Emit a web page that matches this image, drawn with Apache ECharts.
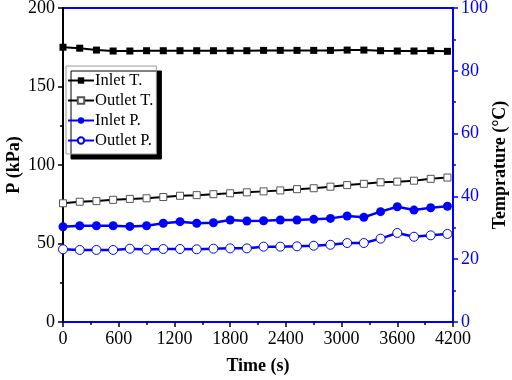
<!DOCTYPE html>
<html>
<head>
<meta charset="utf-8">
<script src="https://cdn.jsdelivr.net/npm/echarts@6/dist/echarts.min.js"></script>
<style>
  html, body { margin: 0; padding: 0; background: #fff; }
  #main { width: 512px; height: 380px; }
</style>
</head>
<body>
<div id="main"></div>
<script>
// time points (s)
var times = [0, 180, 360, 540, 720, 900, 1080, 1260, 1440, 1620, 1800, 1980,
             2160, 2340, 2520, 2700, 2880, 3060, 3240, 3420, 3600, 3780, 3960, 4140];
// temperatures (°C), right axis
var inletT = [87.5, 87.2, 86.6, 86.3, 86.3, 86.4, 86.4, 86.4, 86.4, 86.4, 86.4, 86.4,
              86.5, 86.5, 86.5, 86.5, 86.5, 86.6, 86.6, 86.4, 86.3, 86.3, 86.4, 86.2];
var outletT = [37.8, 38.3, 38.5, 38.9, 39.2, 39.4, 39.8, 40.2, 40.4, 40.7, 41.0, 41.3,
               41.6, 41.9, 42.3, 42.6, 43.1, 43.6, 44.0, 44.5, 44.7, 45.0, 45.6, 46.0];
// pressures (kPa), left axis
var inletP = [60.7, 61.3, 61.3, 61.3, 60.9, 61.3, 62.9, 63.9, 62.9, 63.2, 65.0, 64.3,
              64.5, 65.0, 65.0, 65.4, 66.0, 67.5, 66.7, 70.3, 73.4, 71.3, 72.8, 73.7];
var outletP = [46.3, 45.9, 45.9, 45.9, 46.7, 46.1, 46.5, 46.5, 46.3, 46.7, 46.9, 46.9,
               48.0, 48.0, 48.2, 48.6, 49.2, 50.3, 50.3, 53.1, 56.7, 54.3, 55.2, 56.1];

var seriesNames = ['Inlet T.', 'Outlet T.', 'Inlet P.', 'Outlet P.'];

var font = 'Liberation Serif';
var blue = '#0000ff';

function pairs(vals) {
    return times.map(function(t, i) { return [t, vals[i]]; });
}

var chart = echarts.init(document.getElementById('main'));

var option = {
    animation: false,
    textStyle: { fontFamily: font },
    grid: {
        left: 63, right: 59, top: 8, bottom: 58,
        outerBoundsMode: 'none',
        show: true, borderColor: blue, borderWidth: 2
    },
    legend: {
        data: seriesNames,
        orient: 'vertical',
        left: 66, top: 66,
        itemWidth: 26, itemHeight: 8, itemGap: 3,
        padding: [6, 3, 5, 1],
        backgroundColor: '#fff',
        borderColor: '#999', borderWidth: 1,
        shadowColor: '#000', shadowBlur: 0, shadowOffsetX: 5, shadowOffsetY: 5,
        textStyle: { fontFamily: font, fontSize: 16.5, color: '#000', padding: [0, 0, 0, -4] }
    },
    xAxis: {
        type: 'value', min: 0, max: 4200, interval: 600,
        name: 'Time (s)', nameLocation: 'middle', nameGap: 35, nameMoveOverlap: false,
        nameTextStyle: { fontFamily: font, fontSize: 18, fontWeight: 'bold', color: '#000' },
        axisLine: { lineStyle: { color: blue, width: 2 } },
        axisTick: { inside: false, length: 5, lineStyle: { color: '#000', width: 1.5 } },
        minorTick: { show: true, splitNumber: 2, length: 3, lineStyle: { color: '#000', width: 1.5 } },
        axisLabel: {
            fontFamily: font, fontSize: 18, color: '#000', margin: 8,
            formatter: function(v) { return String(v); }
        },
        splitLine: { show: false }
    },
    yAxis: [{
        type: 'value', min: 0, max: 200, interval: 50, position: 'left',
        name: 'P (kPa)', nameLocation: 'middle', nameGap: 40, nameMoveOverlap: false,
        nameTextStyle: { fontFamily: font, fontSize: 18, fontWeight: 'bold', color: '#000' },
        axisLine: { show: true, lineStyle: { color: '#000', width: 2 } },
        axisTick: { length: 5, lineStyle: { color: '#000', width: 1.5 } },
        minorTick: { show: true, splitNumber: 2, length: 3, lineStyle: { color: '#000', width: 1.5 } },
        axisLabel: { fontFamily: font, fontSize: 18, color: '#000', margin: 8 },
        splitLine: { show: false }
    }, {
        type: 'value', min: 0, max: 100, interval: 20, position: 'right',
        name: 'Temprature (°C)', nameLocation: 'middle', nameGap: 38, nameMoveOverlap: false,
        nameTextStyle: { fontFamily: font, fontSize: 18, fontWeight: 'bold', color: '#000' },
        axisLine: { show: true, lineStyle: { color: blue, width: 2 } },
        axisTick: { length: 5, lineStyle: { color: blue, width: 1.5 } },
        minorTick: { show: true, splitNumber: 2, length: 3, lineStyle: { color: blue, width: 1.5 } },
        axisLabel: { fontFamily: font, fontSize: 18, color: blue, margin: 8 },
        splitLine: { show: false }
    }],
    series: [{
        name: 'Inlet T.', type: 'line', yAxisIndex: 1, data: pairs(inletT),
        symbol: 'rect', symbolSize: 7,
        lineStyle: { color: '#000', width: 2 },
        itemStyle: { color: '#000', borderColor: '#000', borderWidth: 0 }
    }, {
        name: 'Outlet T.', type: 'line', yAxisIndex: 1, data: pairs(outletT),
        symbol: 'rect', symbolSize: 7,
        lineStyle: { color: '#000', width: 2 },
        itemStyle: { color: '#fff', borderColor: '#555', borderWidth: 1 }
    }, {
        name: 'Inlet P.', type: 'line', yAxisIndex: 0, data: pairs(inletP),
        symbol: 'circle', symbolSize: 9,
        lineStyle: { color: blue, width: 2.5 },
        itemStyle: { color: blue, borderColor: blue, borderWidth: 0 }
    }, {
        name: 'Outlet P.', type: 'line', yAxisIndex: 0, data: pairs(outletP),
        symbol: 'circle', symbolSize: 9,
        lineStyle: { color: blue, width: 2.5 },
        itemStyle: { color: '#fff', borderColor: blue, borderWidth: 1 }
    }]
};

chart.setOption(option);

window.onresize = function() {
    chart.resize();
};
</script>
</body>
</html>
